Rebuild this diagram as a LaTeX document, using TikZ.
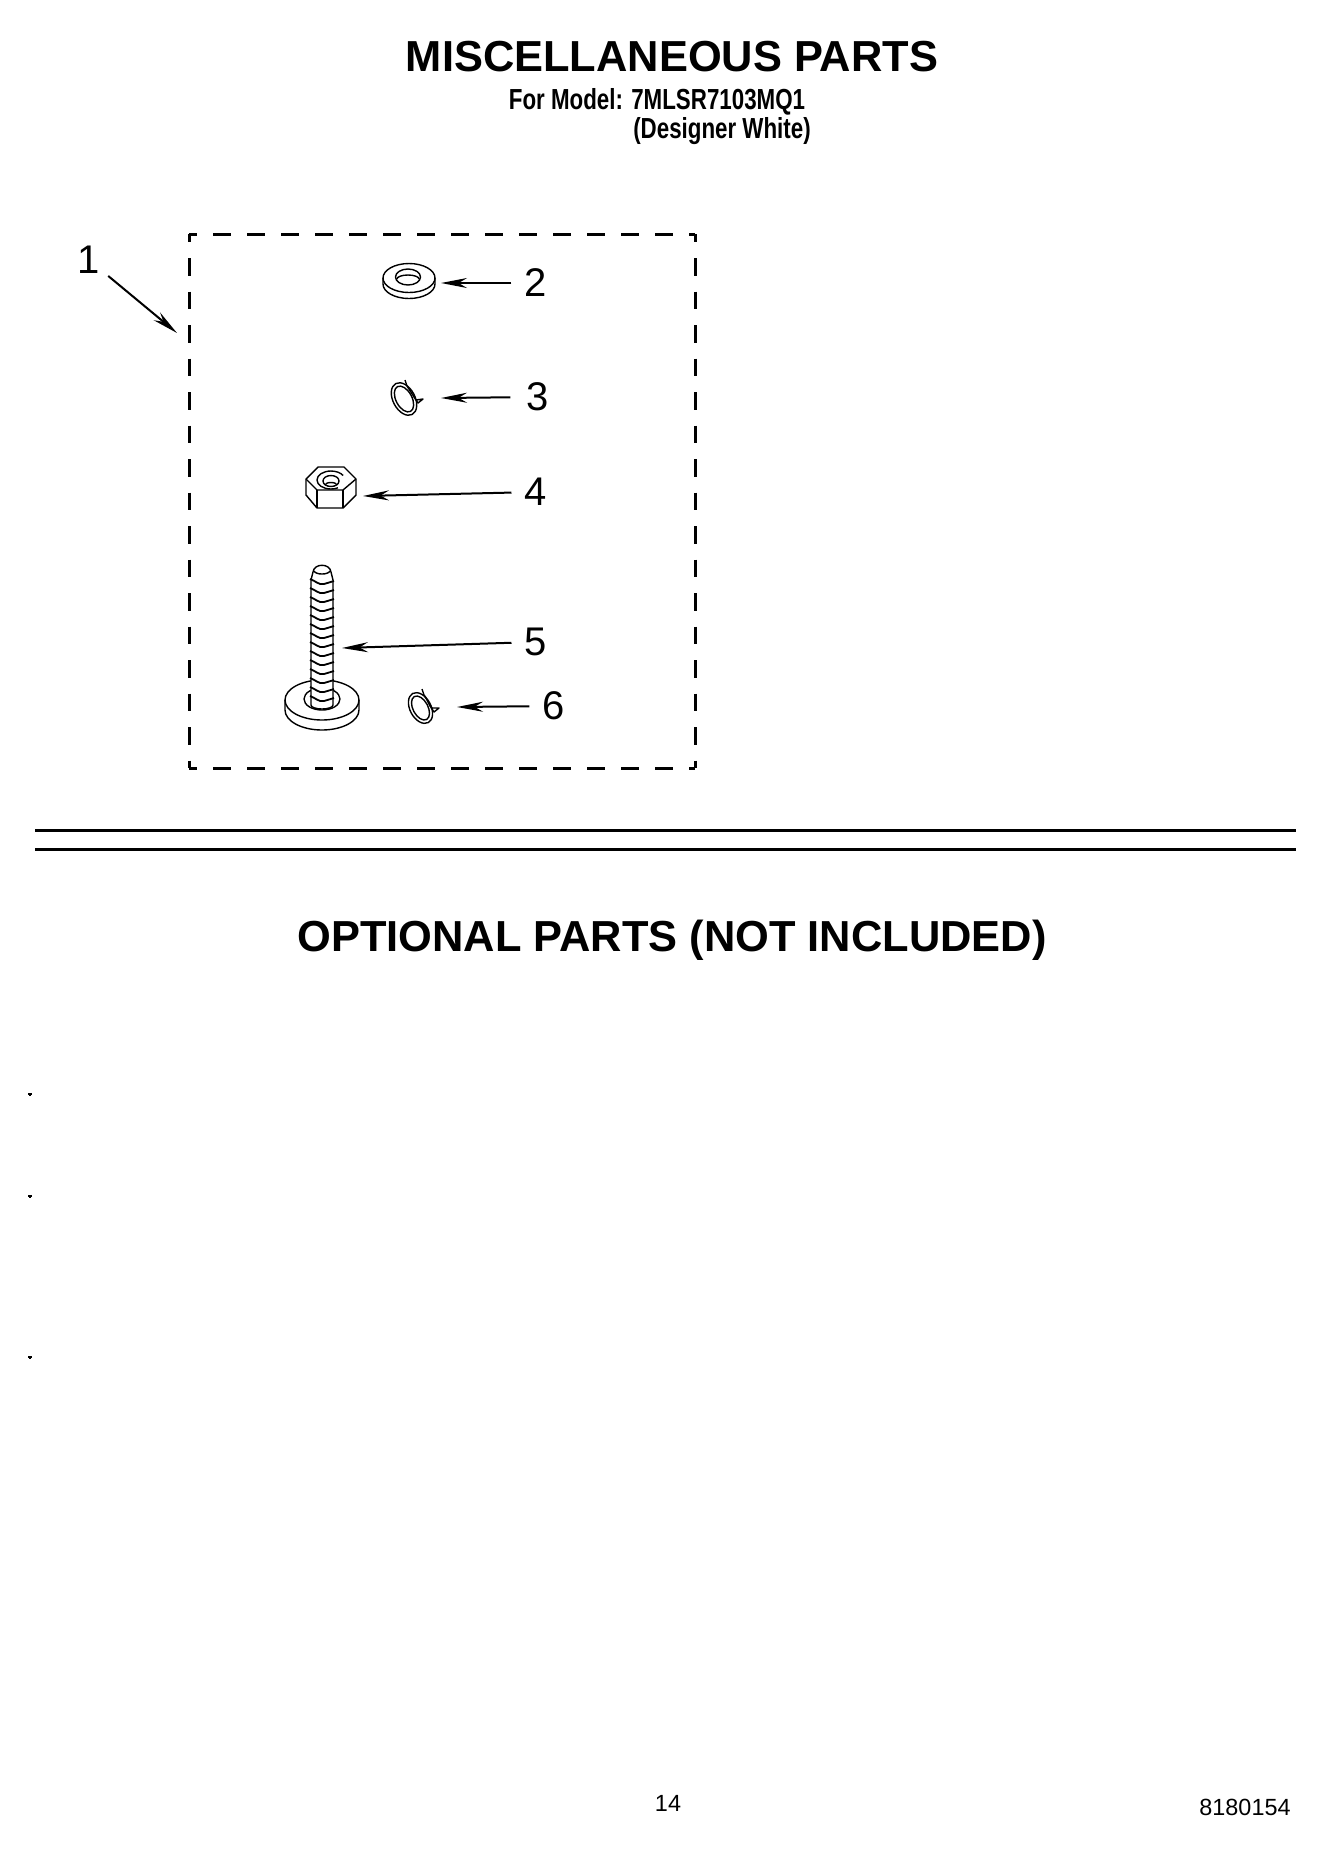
\documentclass[tikz,border=0pt]{standalone}
\usepackage{fontspec}
\setmainfont{Liberation Sans}
\usetikzlibrary{arrows.meta}
\tikzstyle{heading} = [font=\bfseries\fontsize{21.7}{25}\selectfont, inner sep=0pt]
\tikzstyle{subhead} = [font=\bfseries\fontsize{14.5}{17}\selectfont, inner sep=0pt, xscale=0.77, transform shape]
\tikzstyle{partnum} = [font=\fontsize{20}{24}\selectfont, inner sep=0pt]
\tikzstyle{foot} = [font=\fontsize{11.7}{14}\selectfont, inner sep=0pt]
\tikzstyle{leader} = [line width=1pt, -{Stealth[length=13pt,width=5pt]}, shorten <=6.5pt]
\tikzstyle{part} = [line width=0.7pt, line join=round]
\tikzstyle{kitwide} = [line width=1.5pt, dash pattern=on 9pt off 8pt, dash phase=5pt]
\tikzstyle{kittall} = [line width=1.5pt, dash pattern=on 8.75pt off 8pt, dash phase=4.75pt]
\tikzstyle{rule} = [line width=1.5pt]

\begin{document}
\begin{tikzpicture}[x=0.5pt,y=-0.5pt]
\useasboundingbox (0,0) rectangle (1339,1849);

\node (title) [heading] at (672,57) {MISCELLANEOUS PARTS};
\node (model) [subhead] at (657,102) {For Model: 7MLSR7103MQ1};
\node (shade) [subhead] at (722,131) {(Designer White)};
\node (optional) [heading] at (672,940) {OPTIONAL PARTS (NOT INCLUDED)};

% the kit box
\coordinate (kitnw) at (189,234);
\coordinate (kitne) at (695,234);
\coordinate (kitsw) at (189,768);
\coordinate (kitse) at (695,768);
\draw[kitwide] (kitnw) -- (kitne);
\draw[kitwide] (kitsw) -- (kitse);
\draw[kittall] (kitnw) -- (kitsw);
\draw[kittall] (kitne) -- (kitse);

\node (n1) [partnum] at (89,260) {1};
\node (n2) [partnum] at (536,283) {2};
\node (n3) [partnum] at (538,397) {3};
\node (n4) [partnum] at (536,492) {4};
\node (n5) [partnum] at (536,642) {5};
\node (n6) [partnum] at (554,706) {6};

\coordinate (tip1) at (177,333);
\coordinate (tip2) at (441,283);
\coordinate (tip3) at (441,398);
\coordinate (tip4) at (363,496);
\coordinate (tip5) at (342,648);
\coordinate (tip6) at (457,707);

\draw[leader,shorten <=5pt] (n1) -- (tip1);
\draw[leader] (n2) -- (tip2);
\draw[leader,shorten <=8pt] (n3) -- (tip3);
\draw[leader] (n4) -- (tip4);
\draw[leader] (n5) -- (tip5);
\draw[leader] (n6) -- (tip6);

% flat washer
\draw[part] (383,278) arc (180:360:26 and 14.5) -- (435,284) arc (0:180:26 and 14.5) -- cycle;
\draw[part] (383,278) arc (180:0:26 and 14.5);
\draw[part] (408,277) ellipse (12.5 and 8);
\draw[part] (397,279) arc (180:360:11 and 4);

% lock washer
\draw[part,rotate around={28:(404,399)}] (404,399) ellipse (11 and 17.5);
\draw[part,rotate around={28:(404,399)}] (404,399) ellipse (8 and 14);
\draw[part] (405,380) -- (407,386) -- (416,400) -- (423,399) -- (418,403) -- (414,397) -- (408,387);

% hex nut
\draw[part] (306,479) -- (318,467) -- (344,467) -- (356,479) -- (356,495) -- (343,508) -- (317,508) -- (306,495) -- cycle;
\draw[part] (306,479) -- (317,490) -- (343,490) -- (356,479);
\draw[part] (317,490) -- (317,508);
\draw[part] (343,490) -- (343,508);
\draw[part] (317,480) arc (180:330:14 and 9);
\draw[part] (317,480) arc (180:60:14 and 9);
\draw[part] (331,481) ellipse (8 and 5.5);
\draw[part] (325,485) arc (180:360:6 and 2.5);

% bolt and base washer
\draw[part] (285,700) arc (180:360:37 and 20) -- (359,710) arc (0:180:37 and 20) -- cycle;
\draw[part] (285,700) arc (180:0:37 and 20);
\draw[part] (322,699) ellipse (18 and 11);
\draw[part,fill=white] (311,705) -- (311,580) -- (313,572) .. controls (314,563) and (330,563) .. (331,572) -- (333,580) -- (333,705) arc (0:180:11 and 4) -- cycle;
\draw[part] (314,571) .. controls (316,575) and (328,575) .. (330,571);
\foreach \ypos in {580,589,...,702} {
  \draw[part,line width=0.9pt] (310,\ypos-1) .. controls (316,\ypos+1) and (318,\ypos+5) .. (324,\ypos+4) -- (334,\ypos+1);
}

% lock washer next to the base
\draw[part,rotate around={28:(420.5,708)}] (420.5,708) ellipse (10.5 and 16.5);
\draw[part,rotate around={28:(420.5,708)}] (420.5,708) ellipse (7.5 and 13);
\draw[part] (422,689) -- (424,695) -- (432,708) -- (439,708) -- (434,712) -- (430,706) -- (425,696);

% double rule
\coordinate (rulea) at (35,830);
\coordinate (ruleb) at (1296,830);
\coordinate (rulec) at (35,849);
\coordinate (ruled) at (1296,849);
\draw[rule] (rulea) -- (ruleb);
\draw[rule] (rulec) -- (ruled);

% stray marks at the margin
\foreach \ypos in {1094,1196,1357} {
  \draw[line width=1pt] (28,\ypos) -- (32,\ypos) (30,\ypos-1) -- (30,\ypos+2);
}

\node (page) [foot] at (668,1803) {14};
\node (docnum) [foot] at (1245,1807) {8180154};

\end{tikzpicture}
\end{document}
